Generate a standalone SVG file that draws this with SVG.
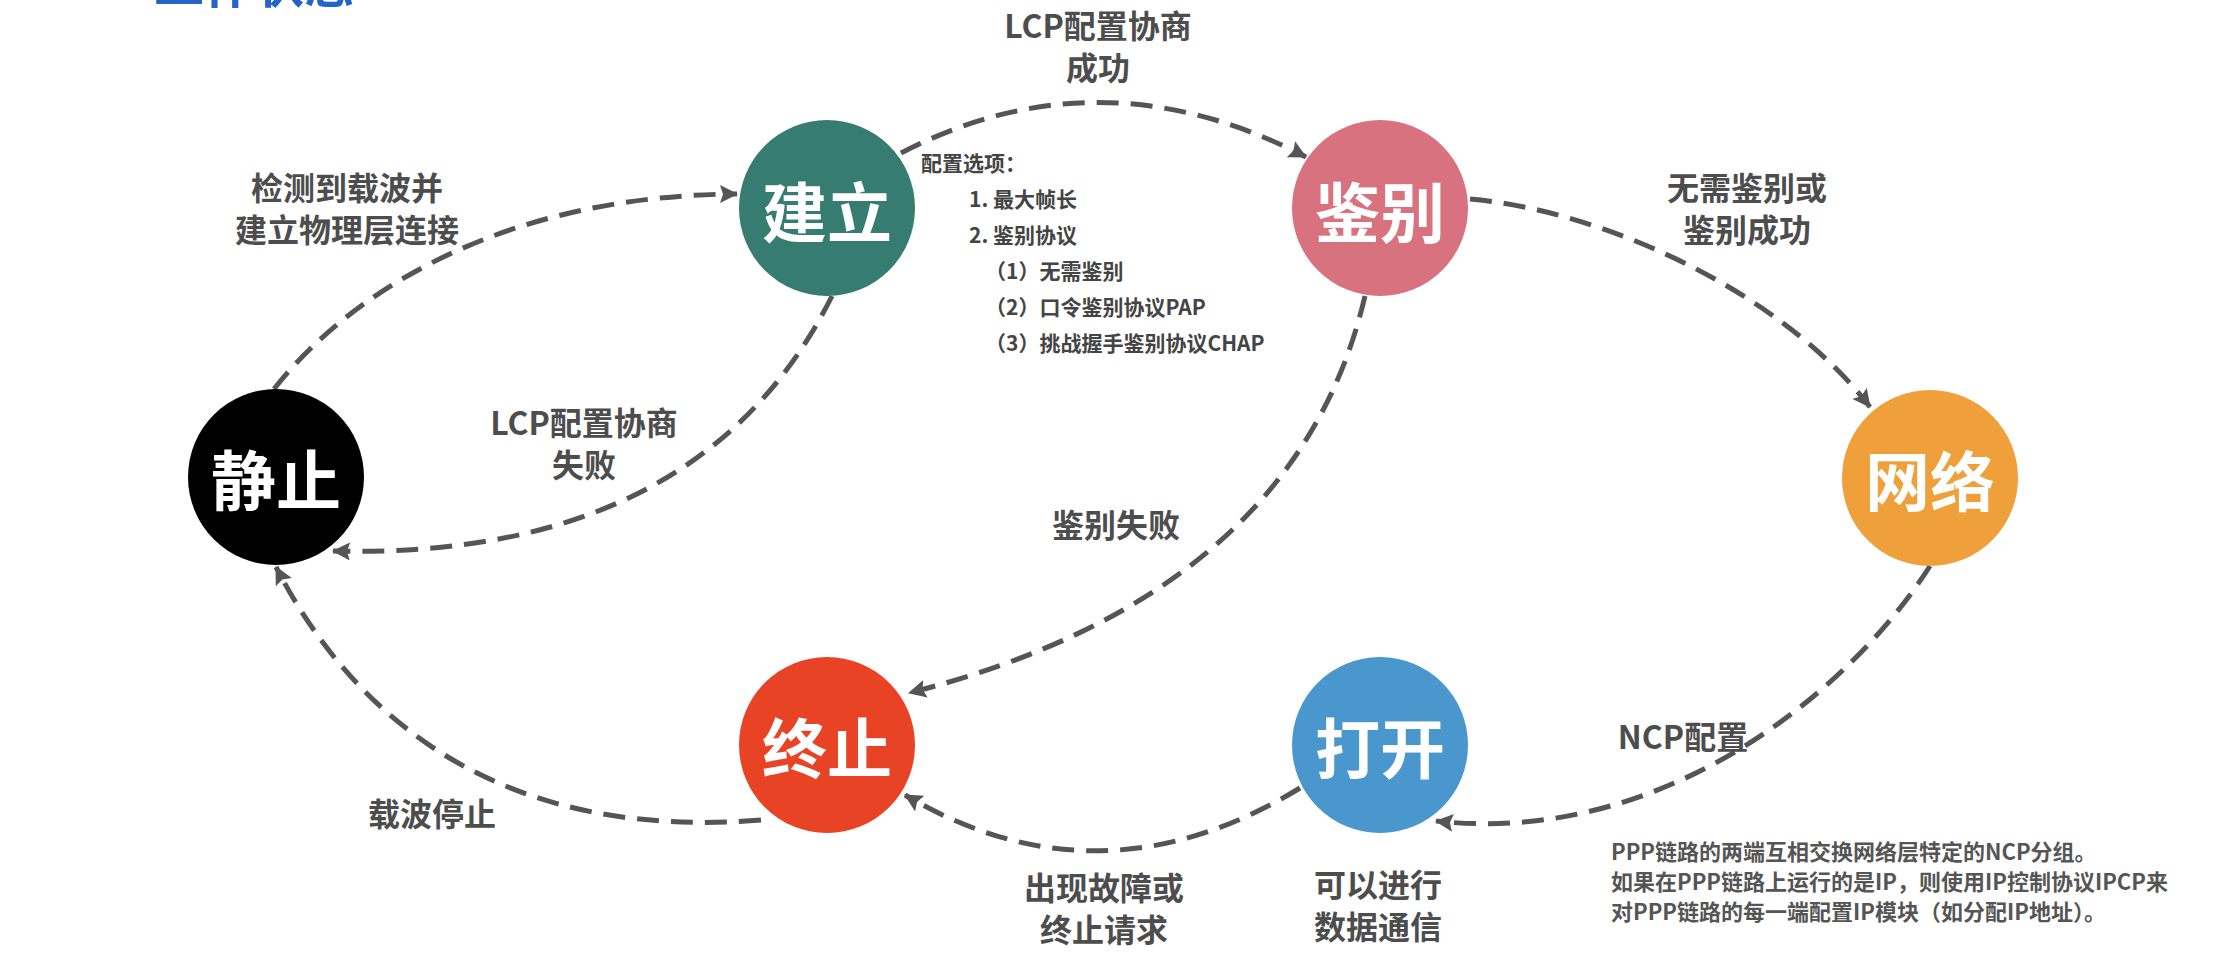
<svg xmlns="http://www.w3.org/2000/svg" width="2224" height="976" viewBox="0 0 2224 976">
<style>
.node-text{font-family:"Noto Sans CJK SC","Noto Sans",sans-serif;font-weight:700;font-size:65px;fill:#FFFFFF;text-anchor:middle}
.lbl{font-family:"Noto Sans CJK SC","Noto Sans",sans-serif;font-weight:700;font-size:32px;fill:#4D4D4D;text-anchor:middle}
.opt{font-family:"Noto Sans CJK SC","Noto Sans",sans-serif;font-weight:700;font-size:21px;fill:#444444}
.para{font-family:"Noto Sans CJK SC","Noto Sans",sans-serif;font-weight:700;font-size:22px;fill:#555555}
.title{font-family:"Noto Sans CJK SC","Noto Sans",sans-serif;font-weight:700;font-size:50px;fill:#2463C8}
.conn{fill:none;stroke:#555555;stroke-width:5;stroke-dasharray:22 12;marker-end:url(#arrow)}
</style>
<defs>
<marker id="arrow" markerUnits="userSpaceOnUse" markerWidth="18" markerHeight="18" viewBox="0 0 18 18" refX="17" refY="9" orient="auto">
<path d="M0,0 L18,9 L0,18 L3,9 Z" fill="#555555"/>
</marker>
</defs>
<rect x="0" y="0" width="2224" height="976" fill="#FFFFFF"/>
<text class="title" x="154" y="3">工作状态</text>

<g id="connectors">
<path class="conn" d="M274 389 C360 280 520 195 737 194"/>
<path class="conn" d="M901 153 Q1100 50 1306 157"/>
<path class="conn" d="M1470 199 C1600 210 1780 290 1870 407"/>
<path class="conn" d="M1930 566 C1849 693 1662 846 1436 821"/>
<path class="conn" d="M1300 788 Q1100 910 905 795"/>
<path class="conn" d="M761 820 C517 840 362 734 276 567"/>
<path class="conn" d="M832 296 Q700 560 333 551"/>
<path class="conn" d="M1365 296 Q1295 595 909 693"/>
</g>

<g id="node-jingzhi">
<circle cx="276" cy="477" r="88" fill="#000000"/>
<text class="node-text" x="276" y="505">静止</text>
</g>
<g id="node-jianli">
<circle cx="827" cy="208" r="88" fill="#377C71"/>
<text class="node-text" x="827" y="237">建立</text>
</g>
<g id="node-jianbie">
<circle cx="1380" cy="208" r="88" fill="#D9727F"/>
<text class="node-text" x="1380" y="237">鉴别</text>
</g>
<g id="node-wangluo">
<circle cx="1930" cy="478" r="88" fill="#EFA03A"/>
<text class="node-text" x="1930" y="506">网络</text>
</g>
<g id="node-zhongzhi">
<circle cx="827" cy="745" r="88" fill="#E84325"/>
<text class="node-text" x="827" y="773">终止</text>
</g>
<g id="node-dakai">
<circle cx="1380" cy="745" r="88" fill="#4A97CD"/>
<text class="node-text" x="1380" y="773">打开</text>
</g>

<g id="labels">
<text class="lbl" x="1098" y="38">LCP配置协商</text>
<text class="lbl" x="1098" y="80">成功</text>
<text class="lbl" x="347" y="200">检测到载波并</text>
<text class="lbl" x="347" y="242">建立物理层连接</text>
<text class="lbl" x="1747" y="200">无需鉴别或</text>
<text class="lbl" x="1747" y="242">鉴别成功</text>
<text class="lbl" x="584" y="435">LCP配置协商</text>
<text class="lbl" x="584" y="477">失败</text>
<text class="lbl" x="1116" y="537">鉴别失败</text>
<text class="lbl" x="432" y="826">载波停止</text>
<text class="lbl" x="1104" y="900">出现故障或</text>
<text class="lbl" x="1104" y="942">终止请求</text>
<text class="lbl" x="1378" y="897">可以进行</text>
<text class="lbl" x="1378" y="939">数据通信</text>
<text class="lbl" x="1683" y="749">NCP配置</text>
</g>

<g id="options">
<text class="opt" x="921" y="171">配置选项：</text>
<text class="opt" x="969" y="207">1. 最大帧长</text>
<text class="opt" x="969" y="243">2. 鉴别协议</text>
<text class="opt" x="985" y="279">（1）无需鉴别</text>
<text class="opt" x="985" y="315">（2）口令鉴别协议PAP</text>
<text class="opt" x="985" y="351">（3）挑战握手鉴别协议CHAP</text>
</g>

<g id="ncp-note">
<text class="para" x="1611" y="860">PPP链路的两端互相交换网络层特定的NCP分组。</text>
<text class="para" x="1611" y="890">如果在PPP链路上运行的是IP，则使用IP控制协议IPCP来</text>
<text class="para" x="1611" y="920">对PPP链路的每一端配置IP模块（如分配IP地址）。</text>
</g>
</svg>
